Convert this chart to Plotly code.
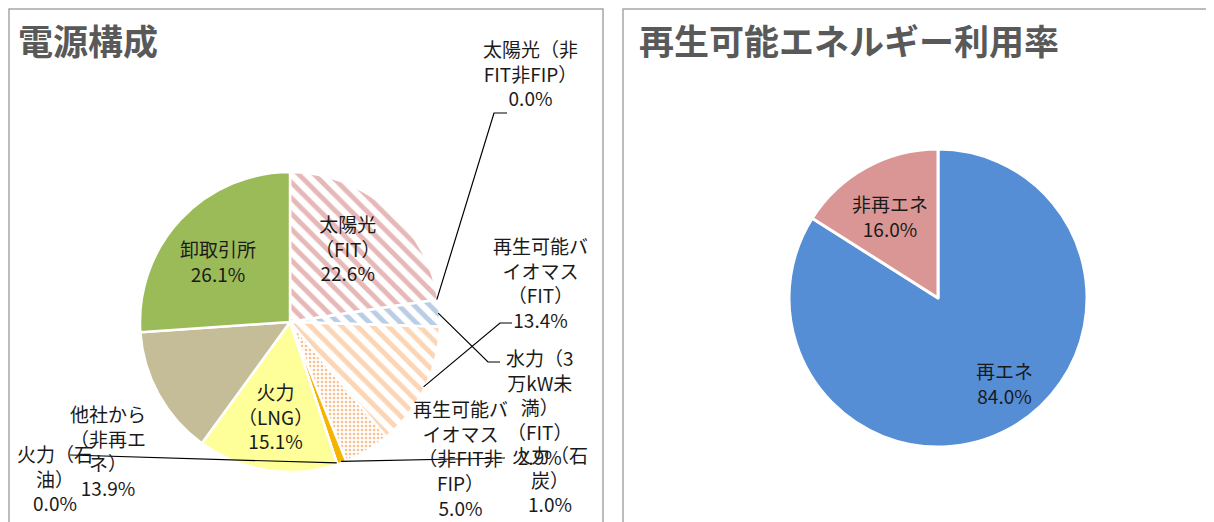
import math
import plotly.graph_objects as go

W, H = 1214, 522
OFF = 8  # page body margin offset in the browser

# ---------------- data ----------------
left_labels = ["太陽光（FIT）", "太陽光（非FIT非FIP）", "水力（3万kW未満）（FIT）",
               "再生可能バイオマス（FIT）", "再生可能バイオマス（非FIT非FIP）",
               "火力（石炭）", "火力（石油）", "火力（LNG）", "他社から（非再エネ）", "卸取引所"]
left_values = [22.6, 0.0, 2.9, 13.4, 5.0, 1.0, 0.0, 15.1, 13.9, 26.1]
left_display = ["太陽光<br>（FIT）", "太陽光（非<br>FIT非FIP）", "水力（3<br>万kW未<br>満）<br>（FIT）",
                "再生可能バ<br>イオマス<br>（FIT）", "再生可能バ<br>イオマス<br>（非FIT非<br>FIP）",
                "火力（石<br>炭）", "火力（石<br>油）", "火力<br>（LNG）", "他社から<br>（非再エ<br>ネ）", "卸取引所"]

right_labels = ["再エネ", "非再エネ"]
right_values = [84.0, 16.0]

# ---------------- styling ----------------
left_fg = ["#E6B9B8", "#C0504D", "#B9CDE5", "#FCD5B5", "#F9BF8F",
           "#F5B400", "#7F7F7F", "#FFFF99", "#C4BD97", "#9BBB59"]
left_shape = ["\\", "", "\\", "\\", ".", "", "", "", "", ""]
left_bg = ["white", "#C0504D", "white", "white", "white",
           "#F5B400", "#7F7F7F", "#FFFF99", "#C4BD97", "#9BBB59"]
left_psize = [11, 8, 11, 11, 4, 8, 8, 8, 8, 8]
left_psol = [0.45, 0.3, 0.45, 0.45, 0.35, 0.3, 0.3, 0.3, 0.3, 0.3]

right_colors = ["#558ED5", "#D99694"]

LC = (290, 322, 150)   # left pie centre x, y (px from top), radius
RC = (938, 298, 149)

def px(x):
    return (x - OFF) / W

def py(y):
    return 1 - (y - OFF) / H

fig = go.Figure()

fig.add_trace(go.Pie(
    labels=left_labels, values=left_values, sort=False, direction="clockwise",
    rotation=0, textinfo="none", hoverinfo="label+percent",
    domain=dict(x=[px(LC[0] - LC[2]), px(LC[0] + LC[2])],
                y=[py(LC[1] + LC[2]), py(LC[1] - LC[2])]),
    marker=dict(colors=left_bg, line=dict(color="white", width=2.5),
                pattern=dict(shape=left_shape, fgcolor=left_fg, bgcolor=left_bg,
                             size=left_psize, solidity=left_psol, fillmode="replace")),
))

fig.add_trace(go.Pie(
    labels=right_labels, values=right_values, sort=False, direction="clockwise",
    rotation=0, textinfo="none", hoverinfo="label+percent",
    domain=dict(x=[px(RC[0] - RC[2]), px(RC[0] + RC[2])],
                y=[py(RC[1] + RC[2]), py(RC[1] - RC[2])]),
    marker=dict(colors=right_colors, line=dict(color="white", width=3)),
))

# ---------------- panels & titles ----------------
shapes = []
for x0, x1 in [(9, 603), (623, 1260)]:
    shapes.append(dict(type="rect", xref="paper", yref="paper",
                       x0=px(x0), x1=px(x1), y0=py(560), y1=py(9),
                       line=dict(color="#A6A6A6", width=1.5), fillcolor="rgba(0,0,0,0)"))

annotations = []
tfont = dict(family="Noto Sans CJK JP", size=35, color="#595959")
annotations.append(dict(text="<b>電源構成</b>", x=px(16), y=py(40), xref="paper", yref="paper",
                        xanchor="left", yanchor="middle", showarrow=False, font=tfont))
annotations.append(dict(text="<b>再生可能エネルギー利用率</b>", x=px(637), y=py(40), xref="paper",
                        yref="paper", xanchor="left", yanchor="middle", showarrow=False, font=tfont))

lfont = dict(family="Noto Sans CJK JP", size=19, color="#1a1a1a")

# label centre positions (px) for left pie labels
left_pos = [(347, 248), (530, 73), (540, 407), (540, 282), (460, 458),
            (550, 479), (55, 478), (275, 416), (108, 450), (218, 261)]
for disp, v, (x, y) in zip(left_display, left_values, left_pos):
    annotations.append(dict(text=f"{disp}<br>{v:.1f}%", x=px(x), y=py(y), xref="paper",
                            yref="paper", xanchor="center", yanchor="middle",
                            showarrow=False, font=lfont))

right_pos = [(1005, 383), (890, 216)]
for lab, v, (x, y) in zip(right_labels, right_values, right_pos):
    annotations.append(dict(text=f"{lab}<br>{v:.1f}%", x=px(x), y=py(y), xref="paper",
                            yref="paper", xanchor="center", yanchor="middle",
                            showarrow=False, font=lfont))

# ---------------- leader lines (anchored on slice angles) ----------------
total = sum(left_values)

def pie_point(idx, frac=0.5, rr=1.0):
    cum = sum(left_values[:idx]) + left_values[idx] * frac
    a = math.radians(cum / total * 360)
    return LC[0] + LC[2] * rr * math.sin(a), LC[1] - LC[2] * rr * math.cos(a)

leaders = {
    1: [(494, 113), (507, 113)],
    2: [(488, 362), (500, 362)],
    3: [(500, 323), (512, 323)],
    5: [(505, 458)],
    6: [(70, 455)],
}
for idx, pts in leaders.items():
    x0, y0 = pie_point(idx, 0.5, 0.99)
    path = f"M {px(x0)} {py(y0)} " + " ".join(f"L {px(x)} {py(y)}" for x, y in pts)
    shapes.append(dict(type="path", xref="paper", yref="paper", path=path,
                       line=dict(color="black", width=1.2), layer="above"))

fig.update_layout(
    width=W, height=H, margin=dict(l=0, r=0, t=0, b=0),
    paper_bgcolor="white", plot_bgcolor="white", showlegend=False,
    shapes=shapes, annotations=annotations,
)

fig.write_html("out.html")
